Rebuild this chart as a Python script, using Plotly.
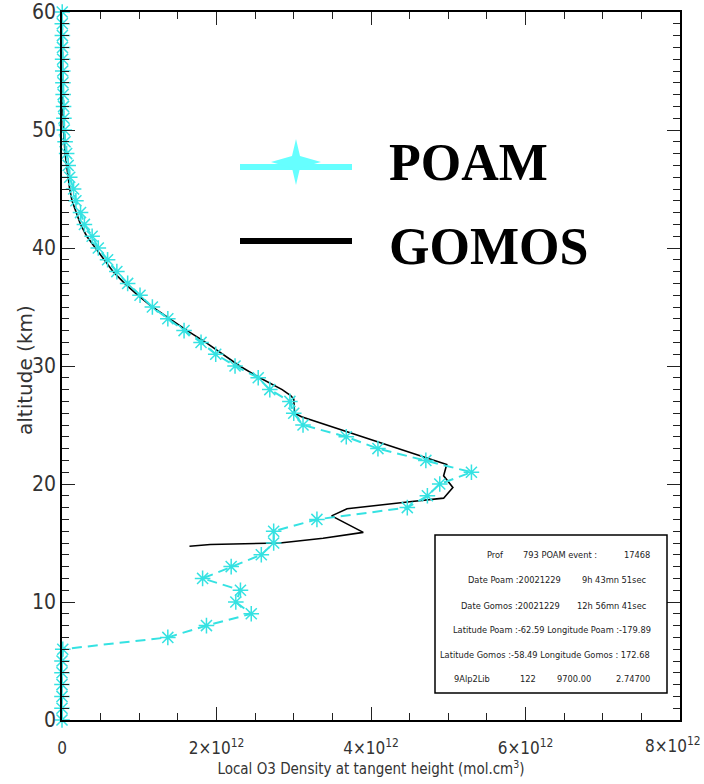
import plotly.graph_objects as go

# ---- data -------------------------------------------------------------
# POAM ozone profile, one sample per km (density in units of 1e12 mol/cm3)
poam_alt = list(range(0, 61))
poam_dens = [0.0, 0.0, 0.0, 0.0, 0.0, 0.0, 0.01, 1.37, 1.87, 2.45,
             2.25, 2.31, 1.82, 2.19, 2.58, 2.74, 2.74, 3.30, 4.47, 4.73,
             4.89, 5.30, 4.71, 4.09, 3.68, 3.12, 3.00, 2.95, 2.69, 2.54,
             2.24, 1.99, 1.80, 1.58, 1.37, 1.17, 1.01, 0.85, 0.71, 0.59,
             0.47, 0.39, 0.29, 0.24, 0.18, 0.15, 0.10, 0.08, 0.06, 0.04,
             0.03, 0.025, 0.02, 0.015, 0.012, 0.010, 0.008, 0.006, 0.005, 0.004,
             0.003]

# GOMOS ozone profile (altitude km, density 1e12 mol/cm3)
gomos_alt = [60, 55, 52, 50, 48, 47, 46, 45, 44, 43, 42, 41, 40, 39, 38, 37,
             36, 35, 34, 33, 32, 31, 30, 29, 28.6, 28.0, 27.5, 27.2, 26.0,
             25.7, 21.65, 20.7, 19.7, 18.8, 18.5, 17.9, 17.3, 15.9, 15.4,
             15.0, 14.87, 14.73]
gomos_dens = [0.0, 0.005, 0.01, 0.02, 0.04, 0.06, 0.08, 0.10, 0.13, 0.18,
              0.24, 0.32, 0.43, 0.54, 0.66, 0.81, 0.98, 1.17, 1.39, 1.62,
              1.86, 2.08, 2.30, 2.56, 2.68, 2.85, 2.96, 3.00, 3.01,
              3.10, 4.98, 4.94, 5.06, 4.94, 4.50, 3.69, 3.49, 3.90, 3.38,
              2.82, 1.92, 1.65]

# the last label sits flush with the page edge, so it is drawn separately
x_ticks = [0, 2e12, 4e12, 6e12, 8e12]
x_tick_text = ["0", "2×10<sup>12</sup>", "4×10<sup>12</sup>",
               "6×10<sup>12</sup>", ""]
x_last_label = "8×10<sup>12</sup>"
y_ticks = [0, 10, 20, 30, 40, 50, 60]

info_rows = [
    ["Prof", "793 POAM event :", "17468"],
    ["Date Poam :20021229", "9h 43mn 51sec"],
    ["Date Gomos :20021229", "12h 56mn 41sec"],
    ["Latitude Poam :-62.59 Longitude Poam :-179.89"],
    ["Latitude Gomos :-58.49 Longitude Gomos : 172.68"],
    ["9Alp2Lib", "122", "9700.00", "2.74700"],
]

# ---- geometry of the plot area (pixels) --------------------------------
W, H = 704, 784
L, R, T, B = 62, 680, 12, 720


def px(x):
    return (x - L) / (R - L)


def py(y):
    return (B - y) / (B - T)


CYAN = "#35e2e2"
LEG_CYAN = "#66ffff"
NARROW = "DejaVu Sans Condensed, Liberation Sans Narrow, sans-serif"
XTICK_FONT = dict(family=NARROW, size=17, color="#333")

fig = go.Figure()

fig.add_trace(go.Scatter(
    x=[d * 1e12 for d in gomos_dens], y=gomos_alt, mode="lines",
    line=dict(color="black", width=1.6), cliponaxis=False, showlegend=False))

fig.add_trace(go.Scatter(
    x=[d * 1e12 for d in poam_dens], y=poam_alt, mode="lines+markers",
    line=dict(color=CYAN, width=2, dash="10px,6px"),
    marker=dict(symbol="asterisk-open", size=13,
                line=dict(color=CYAN, width=1.5)),
    cliponaxis=False, showlegend=False))

axis_common = dict(
    showgrid=False, zeroline=False, showline=True, linecolor="black",
    linewidth=1.5, mirror="ticks", ticks="inside", ticklen=13,
    tickwidth=1.3, tickcolor="#222", ticklabeloverflow="allow",
    automargin=False,
)

fig.update_xaxes(
    range=[0, 8e12], tickmode="array", tickvals=x_ticks, ticktext=x_tick_text,
    ticklabelstandoff=12, tickfont=XTICK_FONT,
    minor=dict(tickmode="linear", tick0=0, dtick=0.5e12, ticks="inside",
               ticklen=7, tickwidth=1.2, tickcolor="#222"),
    title=dict(text="Local O3 Density at tangent height (mol.cm<sup>3</sup>)",
               font=dict(family=NARROW, size=15, color="#333"), standoff=4),
    **axis_common)

fig.update_yaxes(
    range=[0, 60], tickmode="array", tickvals=y_ticks,
    tickfont=dict(family=NARROW, size=21, color="#333"),
    minor=dict(tickmode="linear", tick0=0, dtick=1, ticks="inside",
               ticklen=7, tickwidth=1.2, tickcolor="#222"),
    **axis_common)

shapes = []
annotations = []

# right-most x tick label, kept inside the page
annotations.append(dict(
    text=x_last_label, xref="paper", yref="paper", x=px(703), y=py(745),
    xanchor="right", yanchor="middle", showarrow=False, font=XTICK_FONT))

# vertical axis title
annotations.append(dict(
    text="altitude (km)", xref="paper", yref="paper", x=px(25), y=py(370),
    xanchor="center", yanchor="middle", textangle=-90, showarrow=False,
    font=dict(family="DejaVu Sans", size=20, color="#333")))

# legend: POAM sample line with a sparkle, GOMOS sample line
shapes.append(dict(type="line", xref="paper", yref="paper",
                   x0=px(240), x1=px(352), y0=py(167), y1=py(167),
                   line=dict(color=LEG_CYAN, width=6)))
cx, cy = 296, 162
star = [(cx, cy - 23), (cx + 4, cy - 6), (cx + 25, cy), (cx + 4, cy + 6),
        (cx, cy + 23), (cx - 4, cy + 6), (cx - 25, cy), (cx - 4, cy - 6)]
path = "M " + " L ".join(f"{px(a):.5f},{py(b):.5f}" for a, b in star) + " Z"
shapes.append(dict(type="path", xref="paper", yref="paper", path=path,
                   fillcolor=LEG_CYAN, line=dict(width=0)))
shapes.append(dict(type="line", xref="paper", yref="paper",
                   x0=px(240), x1=px(352), y0=py(241), y1=py(241),
                   line=dict(color="black", width=6)))

for label, yc in (("POAM", 163), ("GOMOS", 246)):
    annotations.append(dict(
        text=f"<b>{label}</b>", xref="paper", yref="paper",
        x=px(387), y=py(yc), xanchor="left", yanchor="middle",
        showarrow=False,
        font=dict(family="Liberation Serif, Times New Roman, serif",
                  size=52, color="black")))

# information box
shapes.append(dict(type="rect", xref="paper", yref="paper",
                   x0=px(435), x1=px(667), y0=py(693), y1=py(535),
                   line=dict(color="black", width=1.5), fillcolor="white"))

row_y = [554, 579, 605, 629, 654, 678]
row_x = [
    [485, 560, 652],
    [563, 648],
    [562, 649],
    [653],
    [652],
    [492, 538, 593, 652],
]
for texts, xs, yc in zip(info_rows, row_x, row_y):
    for i, (txt, xr) in enumerate(zip(texts, xs)):
        if len(texts) == 3 and i == 0:
            anchor = "left"
        elif len(texts) == 3 and i == 1:
            anchor = "center"
        else:
            anchor = "right"
        annotations.append(dict(
            text=txt, xref="paper", yref="paper", x=px(xr), y=py(yc),
            xanchor=anchor, yanchor="middle", showarrow=False,
            font=dict(family=NARROW, size=9.2, color="#222")))

fig.update_layout(
    width=W, height=H, margin=dict(l=L, r=W - R, t=T, b=H - B),
    paper_bgcolor="white", plot_bgcolor="white",
    shapes=shapes, annotations=annotations, showlegend=False)

fig.write_html("out.html")
